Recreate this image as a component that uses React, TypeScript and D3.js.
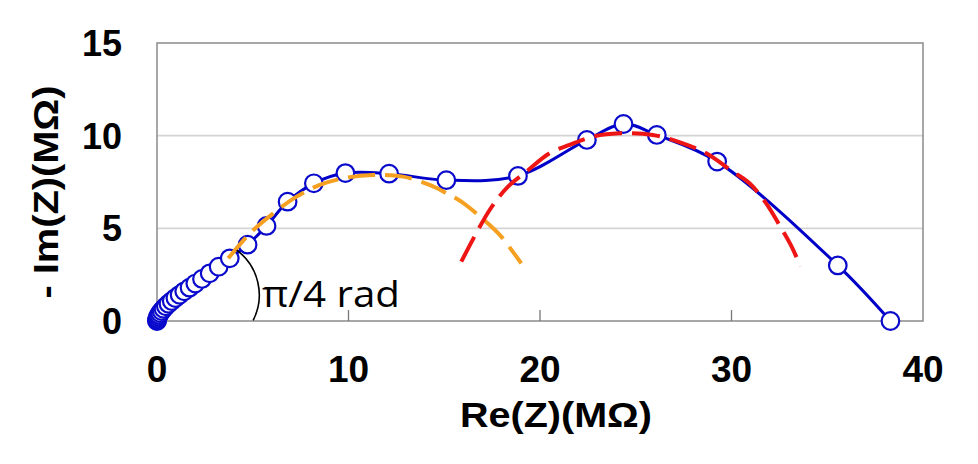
import React from "react";
import * as d3 from "d3";

// ---- Data ----
// Measured impedance points: Re(Z) and -Im(Z) in MΩ
const measRe = [
  0, 0, 0.01, 0.03, 0.06, 0.1, 0.16, 0.24, 0.34, 0.46, 0.6, 0.77, 0.96,
  1.18, 1.42, 1.7, 2.0, 2.35, 2.75, 3.22, 3.8, 4.73, 5.72, 6.82, 8.19, 9.84, 12.12,
  15.11, 18.85, 22.45, 24.36, 26.1, 29.25, 35.55, 38.3,
];
const measIm = [
  0, 0.03, 0.08, 0.15, 0.24, 0.33, 0.43, 0.54, 0.66, 0.79, 0.93, 1.08, 1.24,
  1.41, 1.6, 1.8, 2.02, 2.27, 2.57, 2.93, 3.38, 4.12, 5.13, 6.44, 7.43, 7.98, 7.95,
  7.6, 7.83, 9.77, 10.63, 10.04, 8.6, 3.0, 0.0,
];

// Fitted arc 1 (orange dashed)
const arc1Re = [3.72, 4.85, 6.07, 7.29, 8.5, 9.72, 11.28, 12.85, 14.24, 15.1, 15.89, 17.37, 17.98, 19.02];
const arc1Im = [3.38, 4.73, 5.81, 6.71, 7.34, 7.7, 7.88, 7.79, 7.34, 6.9, 6.44, 5.18, 4.55, 3.11];

// Fitted arc 2 (red dashed)
const arc2Re = [15.89, 17.37, 18.33, 19.29, 20.5, 21.54, 22.76, 24.15, 25.89, 27.46, 28.68, 30.07, 30.94, 31.81, 32.5, 33.08, 33.61];
const arc2Im = [3.2, 5.99, 7.25, 8.06, 9.05, 9.5, 9.95, 10.13, 10.04, 9.59, 9.05, 8.06, 7.43, 6.35, 5.18, 4.13, 2.95];

// Axes
const xTicks = [0, 10, 20, 30, 40];
const yTicks = [0, 5, 10, 15];
const yGrid = [5, 10];
const xInnerTicks = [10, 20, 30];
const xTitle = "Re(Z)(MΩ)";
const yTitle = "- Im(Z)(MΩ)";
const annotationText = "π/4 rad";
// annotation angle arc: start and end points in data units
const annStart = [4.16, 3.83];
const annEnd = [5.02, 0.03];

const W = 978;
const H = 464;

export default function App() {
  const x = d3.scaleLinear().domain([0, 40]).range([157, 923]);
  const y = d3.scaleLinear().domain([0, 15]).range([321, 43]);

  const pts: [number, number][] = measRe.map((r, i) => [r, measIm[i]]);
  const a1: [number, number][] = arc1Re.map((r, i) => [r, arc1Im[i]]);
  const a2: [number, number][] = arc2Re.map((r, i) => [r, arc2Im[i]]);

  const smooth = d3
    .line<[number, number]>()
    .x((d) => x(d[0]))
    .y((d) => y(d[1]))
    .curve(d3.curveCatmullRom.alpha(0.5));

  const font = "'Liberation Sans', Arial, sans-serif";
  const [x0, x1] = x.range();
  const [yb, yt] = y.range();

  const sx = x(annStart[0]);
  const sy = y(annStart[1]);
  const ex = x(annEnd[0]);
  const ey = y(annEnd[1]);
  const annR = 56;

  return (
    <div style={{ position: "absolute", left: 0, top: 0 }}>
      <svg width={W} height={H} style={{ display: "block", background: "#fff" }}>
        {/* gridlines */}
        {yGrid.map((v) => (
          <line key={v} x1={x0} x2={x1} y1={y(v)} y2={y(v)} stroke="#d4d4d4" strokeWidth={1.6} />
        ))}
        {/* frame */}
        <rect x={x0} y={yt} width={x1 - x0} height={yb - yt} fill="none" stroke="#8a8a8a" strokeWidth={1.5} />
        {/* inner ticks on x axis */}
        {xInnerTicks.map((v) => (
          <line key={v} x1={x(v)} x2={x(v)} y1={yb} y2={yb - 11} stroke="#777" strokeWidth={1.3} />
        ))}
        {/* x tick labels */}
        {xTicks.map((v) => (
          <text key={v} x={x(v)} y={382} textAnchor="middle" fontFamily={font} fontWeight="bold" fontSize={37} fill="#000">
            {v}
          </text>
        ))}
        {/* y tick labels */}
        {yTicks.map((v) => (
          <text key={v} x={122} y={y(v) + 13} textAnchor="end" fontFamily={font} fontWeight="bold" fontSize={36} fill="#000">
            {v}
          </text>
        ))}
        {/* axis titles */}
        <text x={556} y={427} textAnchor="middle" fontFamily={font} fontWeight="bold" fontSize={35} textLength={192} lengthAdjust="spacingAndGlyphs" fill="#000">
          {xTitle}
        </text>
        <text
          transform={`translate(58,192) rotate(-90)`}
          textAnchor="middle"
          fontFamily={font}
          fontWeight="bold"
          fontSize={35}
          textLength={213}
          lengthAdjust="spacingAndGlyphs"
          fill="#000"
        >
          {yTitle}
        </text>

        {/* measured data line */}
        <path d={smooth(pts) || ""} fill="none" stroke="#0000c8" strokeWidth={3} />
        {/* markers */}
        {pts.map((d, i) => (
          <circle key={i} cx={x(d[0])} cy={y(d[1])} r={8.8} fill="#fff" stroke="#0a0acc" strokeWidth={2.2} />
        ))}

        {/* fitted arcs */}
        <path d={smooth(a1) || ""} fill="none" stroke="#f5a020" strokeWidth={4} strokeDasharray="27 10" />
        <path d={smooth(a2) || ""} fill="none" stroke="#ee1515" strokeWidth={4} strokeDasharray="28 10" />

        {/* annotation */}
        <path d={`M${sx},${sy} A${annR},${annR} 0 0 1 ${ex},${ey}`} fill="none" stroke="#000" strokeWidth={1.6} />
        <text x={262} y={306.5} fontFamily="'Open Sans', 'Noto Sans', sans-serif" fontSize={37} textLength={138} lengthAdjust="spacingAndGlyphs" fill="#000">
          {annotationText}
        </text>
      </svg>
    </div>
  );
}
